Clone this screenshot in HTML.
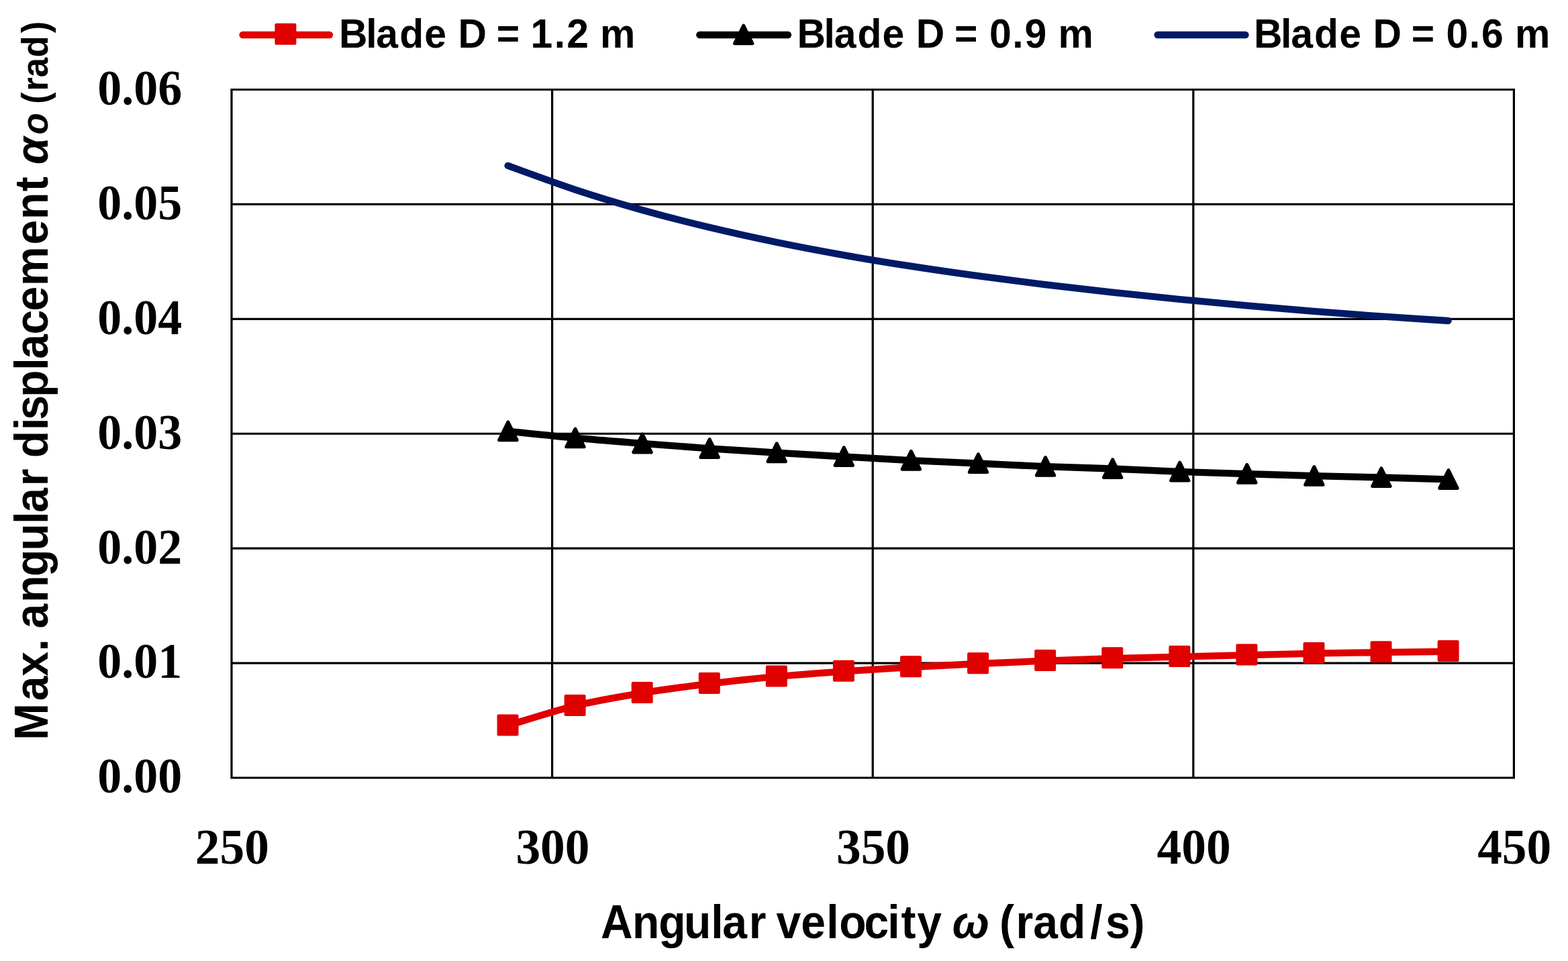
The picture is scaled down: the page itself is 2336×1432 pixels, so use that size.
<!DOCTYPE html><html><head><meta charset="utf-8"><title>Chart</title><style>
html,body{margin:0;padding:0;background:#fff;}svg{display:block;}
.s{font-family:"Liberation Sans",Arial,sans-serif;font-weight:bold;}
.f{font-family:"Liberation Serif","Times New Roman",serif;font-weight:bold;}
</style></head><body>
<svg width="2336" height="1432" viewBox="0 0 2336 1432">
<rect width="2336" height="1432" fill="#fff"/>
<path d="M345.00,133.50V1159.00 M822.60,133.50V1159.00 M1300.20,133.50V1159.00 M1777.80,133.50V1159.00 M2255.40,133.50V1159.00 M345.00,1159.00H2255.40 M345.00,988.08H2255.40 M345.00,817.17H2255.40 M345.00,646.25H2255.40 M345.00,475.33H2255.40 M345.00,304.42H2255.40 M345.00,133.50H2255.40" stroke="#000" stroke-width="3.20" fill="none" stroke-linecap="square"/>
<path d="M756.55,246.89 C773.23,252.84 823.27,271.55 856.62,282.55 C889.98,293.56 923.34,303.55 956.70,312.94 C990.06,322.32 1023.42,330.84 1056.78,338.86 C1090.13,346.87 1123.49,354.16 1156.85,361.04 C1190.21,367.92 1223.57,374.19 1256.92,380.13 C1290.28,386.08 1323.64,391.52 1357.00,396.70 C1390.36,401.88 1423.72,406.65 1457.07,411.22 C1490.43,415.78 1523.79,420.02 1557.15,424.08 C1590.51,428.14 1623.87,431.94 1657.22,435.60 C1690.58,439.25 1723.94,442.69 1757.30,446.00 C1790.66,449.30 1824.02,452.43 1857.38,455.42 C1890.73,458.41 1924.09,461.25 1957.45,463.92 C1990.81,466.60 2024.17,469.14 2057.53,471.48 C2090.88,473.83 2140.92,476.91 2157.60,477.99" stroke="#001A66" stroke-width="10.30" fill="none" stroke-linecap="round" stroke-linejoin="round"/>
<path d="M756.85,642.60 C773.53,644.28 823.57,649.67 856.92,652.70 C890.28,655.73 923.64,658.20 957.00,660.80 C990.36,663.40 1023.72,666.00 1057.08,668.30 C1090.43,670.60 1123.79,672.57 1157.15,674.60 C1190.51,676.63 1223.87,678.58 1257.22,680.50 C1290.58,682.42 1323.94,684.43 1357.30,686.10 C1390.66,687.77 1424.02,688.98 1457.37,690.50 C1490.73,692.02 1524.09,693.87 1557.45,695.20 C1590.81,696.53 1624.17,697.22 1657.52,698.50 C1690.88,699.78 1724.24,701.63 1757.60,702.90 C1790.96,704.17 1824.32,705.05 1857.67,706.10 C1891.03,707.15 1924.39,708.30 1957.75,709.20 C1991.11,710.10 2024.47,710.65 2057.83,711.50 C2091.18,712.35 2141.22,713.83 2157.90,714.30" stroke="#000" stroke-width="10.30" fill="none" stroke-linecap="round" stroke-linejoin="round"/>
<path d="M756.55,1081.20 C773.23,1076.28 823.27,1059.78 856.62,1051.70 C889.98,1043.62 923.34,1038.17 956.70,1032.70 C990.06,1027.23 1023.42,1022.98 1056.78,1018.90 C1090.13,1014.82 1123.49,1011.27 1156.85,1008.20 C1190.21,1005.13 1223.57,1002.85 1256.92,1000.50 C1290.28,998.15 1323.64,996.02 1357.00,994.10 C1390.36,992.18 1423.72,990.57 1457.07,989.00 C1490.43,987.43 1523.79,986.02 1557.15,984.70 C1590.51,983.38 1623.87,982.10 1657.22,981.10 C1690.58,980.10 1723.94,979.52 1757.30,978.70 C1790.66,977.88 1824.02,977.03 1857.38,976.20 C1890.73,975.37 1924.09,974.38 1957.45,973.70 C1990.81,973.02 2024.17,972.58 2057.53,972.10 C2090.88,971.62 2140.92,971.02 2157.60,970.80" stroke="#E00000" stroke-width="10.30" fill="none" stroke-linecap="round" stroke-linejoin="round"/>
<path d="M756.90,628.90L770.10,655.70L743.70,655.70Z" fill="#000" stroke="#000" stroke-width="5.00" stroke-linejoin="round"/>
<path d="M856.98,639.00L870.18,665.80L843.77,665.80Z" fill="#000" stroke="#000" stroke-width="5.00" stroke-linejoin="round"/>
<path d="M957.05,647.10L970.25,673.90L943.85,673.90Z" fill="#000" stroke="#000" stroke-width="5.00" stroke-linejoin="round"/>
<path d="M1057.12,654.60L1070.33,681.40L1043.92,681.40Z" fill="#000" stroke="#000" stroke-width="5.00" stroke-linejoin="round"/>
<path d="M1157.20,660.90L1170.40,687.70L1144.00,687.70Z" fill="#000" stroke="#000" stroke-width="5.00" stroke-linejoin="round"/>
<path d="M1257.27,666.80L1270.47,693.60L1244.07,693.60Z" fill="#000" stroke="#000" stroke-width="5.00" stroke-linejoin="round"/>
<path d="M1357.35,672.40L1370.55,699.20L1344.15,699.20Z" fill="#000" stroke="#000" stroke-width="5.00" stroke-linejoin="round"/>
<path d="M1457.42,676.80L1470.62,703.60L1444.22,703.60Z" fill="#000" stroke="#000" stroke-width="5.00" stroke-linejoin="round"/>
<path d="M1557.50,681.50L1570.70,708.30L1544.30,708.30Z" fill="#000" stroke="#000" stroke-width="5.00" stroke-linejoin="round"/>
<path d="M1657.57,684.80L1670.77,711.60L1644.37,711.60Z" fill="#000" stroke="#000" stroke-width="5.00" stroke-linejoin="round"/>
<path d="M1757.65,689.20L1770.85,716.00L1744.45,716.00Z" fill="#000" stroke="#000" stroke-width="5.00" stroke-linejoin="round"/>
<path d="M1857.72,692.40L1870.92,719.20L1844.52,719.20Z" fill="#000" stroke="#000" stroke-width="5.00" stroke-linejoin="round"/>
<path d="M1957.80,695.50L1971.00,722.30L1944.60,722.30Z" fill="#000" stroke="#000" stroke-width="5.00" stroke-linejoin="round"/>
<path d="M2057.88,697.80L2071.07,724.60L2044.67,724.60Z" fill="#000" stroke="#000" stroke-width="5.00" stroke-linejoin="round"/>
<path d="M2157.95,700.60L2171.15,727.40L2144.75,727.40Z" fill="#000" stroke="#000" stroke-width="5.00" stroke-linejoin="round"/>
<rect x="742.55" y="1066.40" width="28.00" height="28.00" fill="#E00000" stroke="#E00000" stroke-width="4.00" stroke-linejoin="round"/>
<rect x="842.62" y="1036.90" width="28.00" height="28.00" fill="#E00000" stroke="#E00000" stroke-width="4.00" stroke-linejoin="round"/>
<rect x="942.70" y="1017.90" width="28.00" height="28.00" fill="#E00000" stroke="#E00000" stroke-width="4.00" stroke-linejoin="round"/>
<rect x="1042.78" y="1004.10" width="28.00" height="28.00" fill="#E00000" stroke="#E00000" stroke-width="4.00" stroke-linejoin="round"/>
<rect x="1142.85" y="993.40" width="28.00" height="28.00" fill="#E00000" stroke="#E00000" stroke-width="4.00" stroke-linejoin="round"/>
<rect x="1242.92" y="985.70" width="28.00" height="28.00" fill="#E00000" stroke="#E00000" stroke-width="4.00" stroke-linejoin="round"/>
<rect x="1343.00" y="979.30" width="28.00" height="28.00" fill="#E00000" stroke="#E00000" stroke-width="4.00" stroke-linejoin="round"/>
<rect x="1443.07" y="974.20" width="28.00" height="28.00" fill="#E00000" stroke="#E00000" stroke-width="4.00" stroke-linejoin="round"/>
<rect x="1543.15" y="969.90" width="28.00" height="28.00" fill="#E00000" stroke="#E00000" stroke-width="4.00" stroke-linejoin="round"/>
<rect x="1643.22" y="966.30" width="28.00" height="28.00" fill="#E00000" stroke="#E00000" stroke-width="4.00" stroke-linejoin="round"/>
<rect x="1743.30" y="963.90" width="28.00" height="28.00" fill="#E00000" stroke="#E00000" stroke-width="4.00" stroke-linejoin="round"/>
<rect x="1843.38" y="961.40" width="28.00" height="28.00" fill="#E00000" stroke="#E00000" stroke-width="4.00" stroke-linejoin="round"/>
<rect x="1943.45" y="958.90" width="28.00" height="28.00" fill="#E00000" stroke="#E00000" stroke-width="4.00" stroke-linejoin="round"/>
<rect x="2043.53" y="957.30" width="28.00" height="28.00" fill="#E00000" stroke="#E00000" stroke-width="4.00" stroke-linejoin="round"/>
<rect x="2143.60" y="956.00" width="28.00" height="28.00" fill="#E00000" stroke="#E00000" stroke-width="4.00" stroke-linejoin="round"/>
<path d="M361.5,52.0H491" stroke="#E00000" stroke-width="10.30" stroke-linecap="round"/>
<rect x="411.40" y="36.80" width="28.00" height="28.00" fill="#E00000" stroke="#E00000" stroke-width="4.00" stroke-linejoin="round"/>
<path d="M1042.3,52.0H1174" stroke="#000" stroke-width="10.30" stroke-linecap="round"/>
<path d="M1107.70,38.00L1120.90,64.80L1094.50,64.80Z" fill="#000" stroke="#000" stroke-width="5.00" stroke-linejoin="round"/>
<path d="M1724.5,52.0H1855.5" stroke="#001A66" stroke-width="10.30" stroke-linecap="round"/>
<text class="s" transform="translate(0.00,70.80) scale(0.9500,1)"><tspan x="531.68 573.84 589.86 626.47 665.56 700.04 718.42 763.19 778.72 814.93 832.20 869.31 888.61 923.09 941.16" y="0.00" font-size="62.00">Blade D = 1.2 m</tspan></text>
<text class="s" transform="translate(0.00,70.80) scale(0.9500,1)"><tspan x="1249.89 1292.05 1308.08 1344.68 1383.77 1418.25 1436.63 1481.40 1496.93 1533.14 1551.54 1587.52 1606.73 1641.21 1659.37" y="0.00" font-size="62.00">Blade D = 0.9 m</tspan></text>
<text class="s" transform="translate(0.00,70.80) scale(0.9500,1)"><tspan x="1966.32 2008.47 2024.50 2061.10 2100.19 2134.67 2153.05 2197.83 2213.36 2249.56 2267.96 2303.94 2323.06 2357.54 2375.79" y="0.00" font-size="62.00">Blade D = 0.6 m</tspan></text>
<text class="f" x="145.20" y="1181.40" font-size="74.00" text-anchor="start" textLength="126.00" lengthAdjust="spacingAndGlyphs">0.00</text>
<text class="f" x="145.20" y="1010.48" font-size="74.00" text-anchor="start" textLength="126.00" lengthAdjust="spacingAndGlyphs">0.01</text>
<text class="f" x="145.20" y="839.57" font-size="74.00" text-anchor="start" textLength="126.00" lengthAdjust="spacingAndGlyphs">0.02</text>
<text class="f" x="145.20" y="668.65" font-size="74.00" text-anchor="start" textLength="126.00" lengthAdjust="spacingAndGlyphs">0.03</text>
<text class="f" x="145.20" y="497.73" font-size="74.00" text-anchor="start" textLength="126.00" lengthAdjust="spacingAndGlyphs">0.04</text>
<text class="f" x="145.20" y="326.82" font-size="74.00" text-anchor="start" textLength="126.00" lengthAdjust="spacingAndGlyphs">0.05</text>
<text class="f" x="145.20" y="155.90" font-size="74.00" text-anchor="start" textLength="126.00" lengthAdjust="spacingAndGlyphs">0.06</text>
<text class="f" x="290.80" y="1287.00" font-size="74.00" text-anchor="start" textLength="110.00" lengthAdjust="spacingAndGlyphs">250</text>
<text class="f" x="768.40" y="1287.00" font-size="74.00" text-anchor="start" textLength="110.00" lengthAdjust="spacingAndGlyphs">300</text>
<text class="f" x="1246.00" y="1287.00" font-size="74.00" text-anchor="start" textLength="110.00" lengthAdjust="spacingAndGlyphs">350</text>
<text class="f" x="1723.60" y="1287.00" font-size="74.00" text-anchor="start" textLength="110.00" lengthAdjust="spacingAndGlyphs">400</text>
<text class="f" x="2201.20" y="1287.00" font-size="74.00" text-anchor="start" textLength="110.00" lengthAdjust="spacingAndGlyphs">450</text>
<text class="s" transform="translate(0.00,1397.80) scale(0.9500,1)"><tspan x="942.11 991.58 1032.94 1072.59 1115.01 1132.80 1174.50 1201.55 1217.32 1255.98 1296.06 1315.93 1355.39 1391.85 1413.06 1438.17 1476.82" y="0.00" font-size="69.50">Angular velocity </tspan><tspan x="1493.45" y="0.00" font-size="69.50" font-style="italic">ω</tspan><tspan x="1551.45 1567.47 1593.24 1620.28 1660.06 1709.71 1733.61 1772.02" y="0.00" font-size="69.50"> (rad/s)</tspan></text>
<text class="s" transform="translate(70.70,1432.00) rotate(-90) scale(0.9500,1)"><tspan x="346.42 408.17 446.69 485.85 505.16 521.65 562.43 603.04 643.65 685.54 703.33 744.92 771.97 789.32 832.70 848.67 884.43 926.70 944.49 982.76 1019.45 1059.07 1123.56 1163.27 1207.06 1230.20" y="0.00" font-size="69.50">Max. angular displacement </tspan><tspan x="1249.44" y="0.00" font-size="69.50" font-style="italic">α</tspan><tspan x="1296.22" y="0.00" font-size="55.60" font-style="italic">o</tspan><tspan x="1330.18 1344.23 1364.61 1386.07 1417.50 1455.57" y="0.00" font-size="55.60"> (rad)</tspan></text>
</svg></body></html>
